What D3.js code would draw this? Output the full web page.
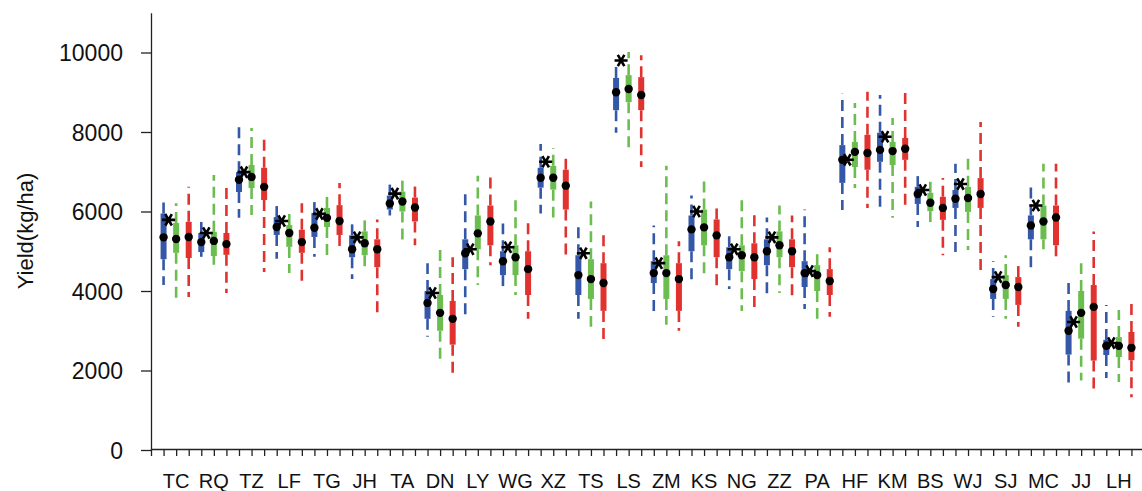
<!DOCTYPE html>
<html>
<head>
<meta charset="utf-8">
<script src="https://cdn.jsdelivr.net/npm/d3@7"></script>
<style>
  body { margin: 0; background: #fff; }
  text { font-family: "Liberation Sans", Arial, sans-serif; fill: #111; }
</style>
</head>
<body>
<script>
var categories = ["TC","RQ","TZ","LF","TG","JH","TA","DN","LY","WG","XZ","TS","LS","ZM","KS","NG","ZZ","PA","HF","KM","BS","WJ","SJ","MC","JJ","LH"];

// blue series
var blueMed = [5350,5230,6800,5610,5590,5050,6200,3700,4950,4750,6850,4400,9000,4450,5550,4850,5000,4450,7300,7550,6440,6320,4050,5650,3000,2620];
var blueQ1  = [4800,4980,6490,5410,5360,4850,6050,3300,4550,4400,6600,3900,8550,4200,5000,4550,4650,4100,6720,7250,6190,6090,3800,5300,2400,2390];
var blueQ3  = [5950,5460,6990,5860,5960,5400,6400,4000,5300,5000,7100,4900,9360,4750,5900,5100,5300,4750,7670,7980,6620,6540,4300,5900,3500,2770];
var blueLo  = [4150,4860,5840,4810,4860,4300,5900,2850,3300,4050,5950,3300,7980,3500,4250,4050,3800,3550,6040,6040,5610,4980,3350,4600,1600,1810];
var blueHi  = [6300,5740,8180,6240,6340,5700,6700,4700,6450,5700,7700,5650,9680,5650,6400,5450,5850,6050,8960,8930,6890,7200,4750,6650,4300,3650];
var starVal = [5790,5460,6990,5760,5940,5350,6450,3950,5050,5100,7250,4950,9800,4700,6000,5050,5350,4500,7300,7880,6540,6690,4350,6150,3220,2690];

// green series
var greenMed = [5310,5260,6870,5460,5840,5200,6250,3450,5450,4850,6850,4300,9080,4450,5600,4900,5150,4400,7500,7520,6220,6340,4150,5750,3450,2620];
var greenQ1  = [4960,4880,6590,5110,5610,4900,6000,3000,5050,4400,6550,3800,8750,3800,5150,4500,4850,4000,7120,7170,6010,5990,3800,5300,2800,2340];
var greenQ3  = [5710,5490,7170,5660,6090,5500,6500,3900,5900,5150,7150,4800,9430,4900,6050,5150,5500,4650,7750,7750,6470,6620,4400,6150,4000,2840];
var greenLo  = [3770,4660,5910,4450,4830,4600,5200,2200,4150,3900,5850,3100,7600,3150,4300,3500,3950,3300,6590,5840,5590,5030,3300,5050,1750,1710];
var greenHi  = [6210,6920,8100,5960,6420,5900,6800,5150,6900,6350,7600,6250,10010,7150,6900,6300,6150,5050,8730,8350,6870,7400,4900,7200,4700,3520];

// red series
var redMed = [5360,5180,6620,5230,5760,5050,6100,3300,5750,4550,6650,4200,8930,4300,5400,4850,5000,4250,7470,7580,6090,6440,4100,5850,3600,2570];
var redQ1  = [4830,4910,6290,4960,5410,4600,5750,2650,5150,3900,6050,3500,8550,3500,4850,4300,4600,3900,7050,7300,5790,6090,3650,5150,2250,2260];
var redQ3  = [5740,5460,7100,5540,6160,5300,6350,3750,6150,5000,7050,4700,9380,4700,5800,5200,5300,4550,7930,7850,6370,6840,4350,6150,4150,2970];
var redLo  = [3850,3950,4480,4200,5030,3350,5150,1900,4650,3300,4850,2700,7120,3000,4050,3500,3800,3350,6090,6090,4900,4450,3100,4750,1450,1330];
var redHi  = [6620,6740,7930,6210,6720,5800,6750,4850,7000,5750,7400,5550,9930,5250,6200,5950,5900,5100,9010,8980,6840,8250,4650,7200,5500,3720];

var yTicks = [0,2000,4000,6000,8000,10000];

var series = [
  {color: "#3557a7", med: blueMed, q1: blueQ1, q3: blueQ3, lo: blueLo, hi: blueHi},
  {color: "#6cbd4f", med: greenMed, q1: greenQ1, q3: greenQ3, lo: greenLo, hi: greenHi},
  {color: "#e0322f", med: redMed, q1: redQ1, q3: redQ3, lo: redLo, hi: redHi}
];

var W = 1142, H = 491;

var svg = d3.select("body").append("svg")
  .attr("width", W)
  .attr("height", H);

var x = d3.scaleLinear()
  .domain([0, 79])
  .range([151, 1144]);

var y = d3.scaleLinear()
  .domain([0, 11000])
  .range([450, 12.75]);

// axes
var yAxis = d3.axisLeft(y)
  .tickValues(yTicks)
  .tickFormat(d3.format("d"))
  .tickSize(10)
  .tickSizeOuter(0)
  .tickPadding(18);

var gy = svg.append("g")
  .attr("transform", "translate(151,0)")
  .call(yAxis);
gy.selectAll("text").style("font-size", "23px").attr("dy", "0.36em");

var xAxis = d3.axisBottom(x)
  .tickValues(d3.range(0, 79))
  .tickSize(7)
  .tickSizeOuter(0)
  .tickFormat("");

var gx = svg.append("g")
  .attr("transform", "translate(0,449)")
  .call(xAxis);

svg.selectAll(".domain, .tick line").attr("stroke", "#222").attr("stroke-width", 1.3);

// category labels, under the middle (green) box
svg.append("g").selectAll("text")
  .data(categories)
  .enter().append("text")
  .attr("x", function(d, i) { return x(i * 3 + 2); })
  .attr("y", 488)
  .attr("text-anchor", "middle")
  .style("font-size", "20px")
  .text(function(d) { return d; });

// y title
svg.append("text")
  .attr("text-anchor", "middle")
  .attr("transform", "translate(33," + (231) + ")rotate(-90)")
  .style("font-size", "22px")
  .text("Yield(kg/ha)");

// boxes
series.forEach(function(s, k) {
  var g = svg.append("g");
  var pos = function(i) { return x(i * 3 + k + 1); };

  // upper whisker
  g.selectAll(".wu")
    .data(categories)
    .enter().append("line")
    .attr("x1", function(d, i) { return pos(i); })
    .attr("x2", function(d, i) { return pos(i); })
    .attr("y1", function(d, i) { return y(s.q3[i]); })
    .attr("y2", function(d, i) { return y(s.hi[i]); })
    .attr("stroke", s.color)
    .attr("stroke-width", 2.6)
    .attr("stroke-dasharray", "11,6");

  // lower whisker
  g.selectAll(".wl")
    .data(categories)
    .enter().append("line")
    .attr("x1", function(d, i) { return pos(i); })
    .attr("x2", function(d, i) { return pos(i); })
    .attr("y1", function(d, i) { return y(s.q1[i]); })
    .attr("y2", function(d, i) { return y(s.lo[i]); })
    .attr("stroke", s.color)
    .attr("stroke-width", 2.6)
    .attr("stroke-dasharray", "11,6");

  // box
  g.selectAll(".bx")
    .data(categories)
    .enter().append("line")
    .attr("x1", function(d, i) { return pos(i); })
    .attr("x2", function(d, i) { return pos(i); })
    .attr("y1", function(d, i) { return y(s.q1[i]); })
    .attr("y2", function(d, i) { return y(s.q3[i]); })
    .attr("stroke", s.color)
    .attr("stroke-width", 6);

  // median
  g.selectAll(".md")
    .data(categories)
    .enter().append("circle")
    .attr("cx", function(d, i) { return pos(i); })
    .attr("cy", function(d, i) { return y(s.med[i]); })
    .attr("r", 4.2)
    .attr("fill", "#000");
});

// stars
var star = d3.symbol().type(d3.symbolAsterisk).size(120);
svg.append("g").selectAll("path")
  .data(starVal)
  .enter().append("path")
  .attr("d", star)
  .attr("transform", function(d, i) { return "translate(" + (x(i * 3 + 1) + 5) + "," + y(d) + ")rotate(30)"; })
  .attr("fill", "none")
  .attr("stroke", "#000")
  .attr("stroke-width", 2.6);
</script>
</body>
</html>
